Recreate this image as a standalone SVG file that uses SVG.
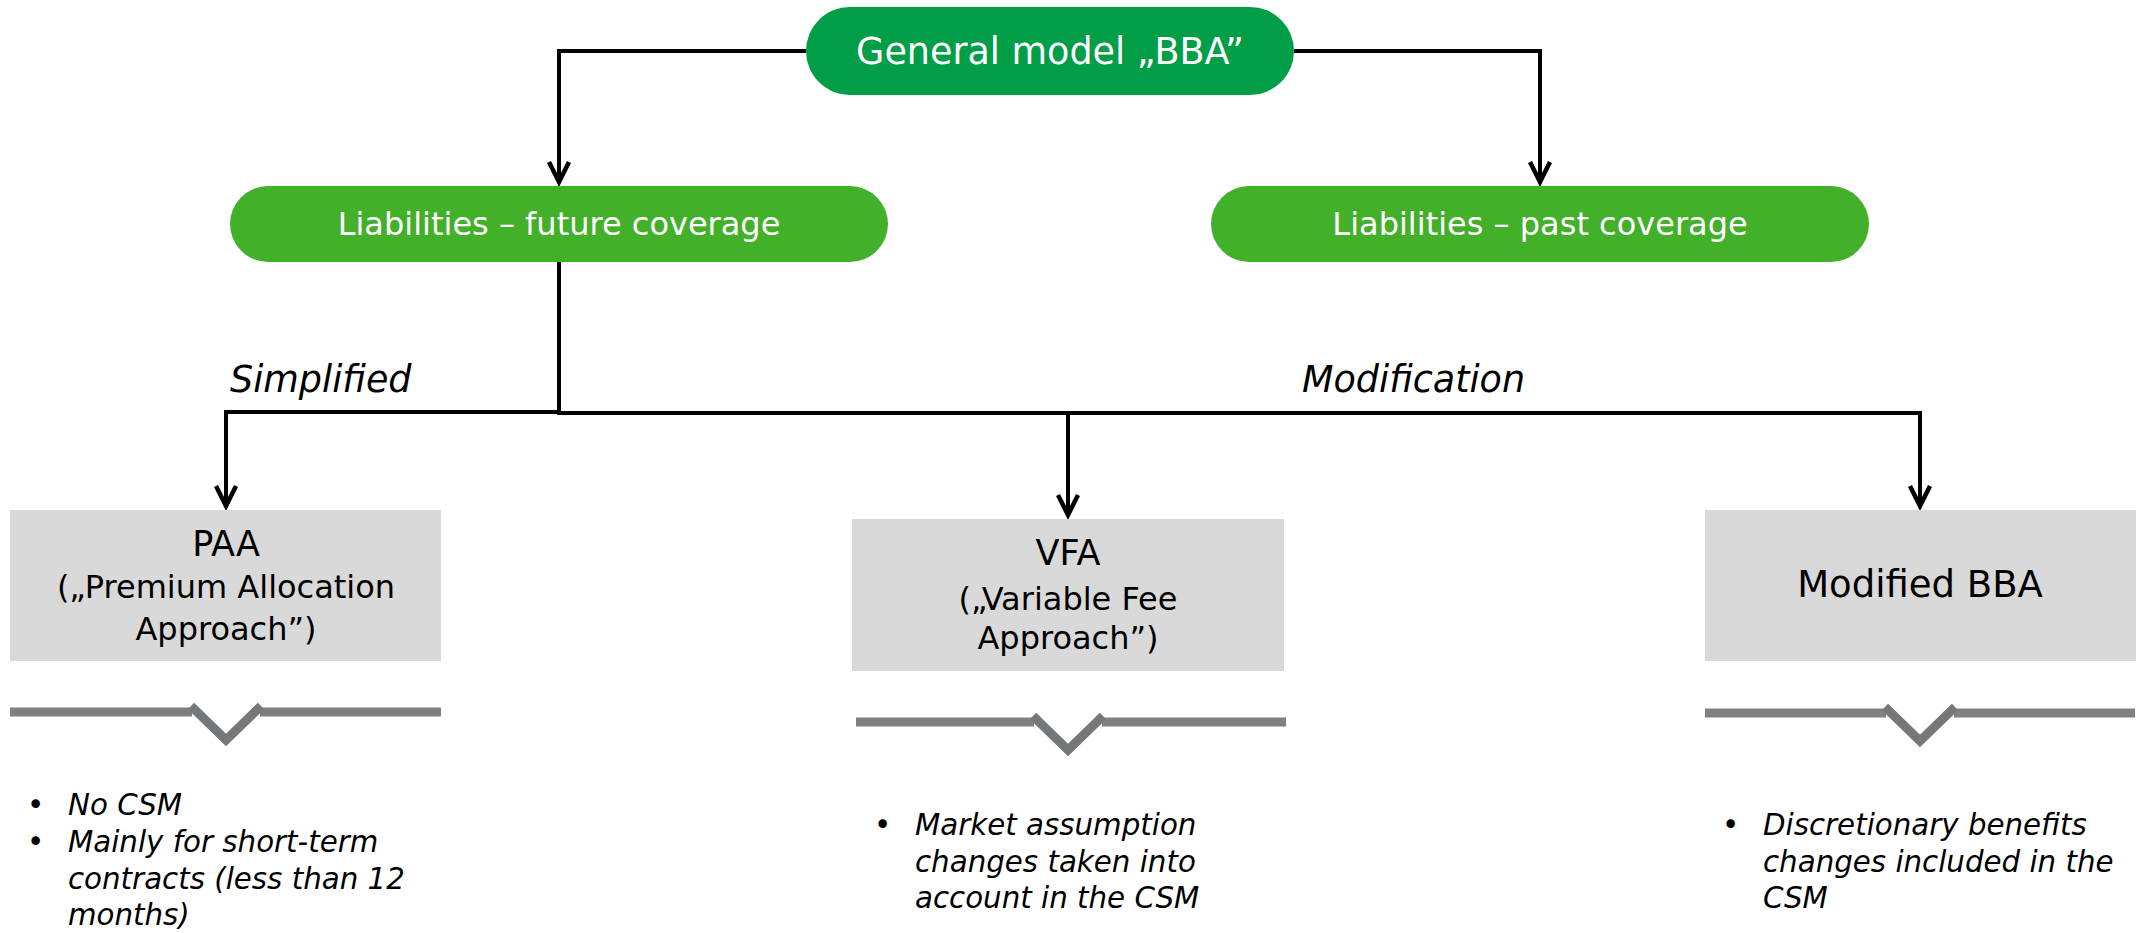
<svg xmlns="http://www.w3.org/2000/svg" width="2149" height="933" viewBox="0 0 2149 933">
<style>
.t{font-family:"DejaVu Sans","Liberation Sans",sans-serif;}
.w{fill:#ffffff;text-anchor:middle;}
.k{fill:#000000;text-anchor:middle;}
.i{font-family:"DejaVu Sans","Liberation Sans",sans-serif;font-style:italic;fill:#000000;}
.b{font-size:29.3px;}
.box{fill:#D9D9D9;}
.ln{stroke:#000;stroke-width:4;fill:none;}
.bar{stroke:#808080;stroke-width:9;fill:none;}
.chev{stroke:#75787B;stroke-width:9;fill:none;stroke-linejoin:miter;}
</style>
<defs>
<marker id="arr" viewBox="-26 -13 30 26" markerWidth="30" markerHeight="26" refX="0" refY="0" orient="auto" markerUnits="userSpaceOnUse">
<path d="M-20,-10 L0,0 L-20,10" fill="none" stroke="#000" stroke-width="4.5" stroke-linejoin="miter"/>
</marker>
</defs>
<g id="connectors">
<path class="ln" d="M806,51 H559 V182" marker-end="url(#arr)"/>
<path class="ln" d="M1294,51 H1540 V182" marker-end="url(#arr)"/>
<path class="ln" d="M559,262 V412"/>
<path class="ln" d="M561,412 H226 V506" marker-end="url(#arr)"/>
<path class="ln" d="M557,413 H1920 V506" marker-end="url(#arr)"/>
<path class="ln" d="M1068,413 V515" marker-end="url(#arr)"/>
<text class="i" x="230" y="392" font-size="36.5">Simplified</text>
<text class="i" x="1302" y="392" font-size="36.5">Modification</text>
</g>
<g id="node-bba">
<rect x="806" y="7" width="488" height="88" rx="44" fill="#009E47"/>
<text class="t w" x="1050" y="64" font-size="36.5">General model „BBA”</text>
</g>
<g id="node-future">
<rect x="230" y="186" width="658" height="76" rx="38" fill="#43B02A"/>
<text class="t w" x="559" y="235" font-size="32">Liabilities – future coverage</text>
</g>
<g id="node-past">
<rect x="1211" y="186" width="658" height="76" rx="38" fill="#43B02A"/>
<text class="t w" x="1540" y="235" font-size="32">Liabilities – past coverage</text>
</g>
<g id="node-paa">
<rect class="box" x="10" y="510" width="431" height="151"/>
<text class="t k" x="226" y="556" font-size="35">PAA</text>
<text class="t k" x="226" y="598" font-size="32">(„Premium Allocation</text>
<text class="t k" x="226" y="640" font-size="32">Approach”)</text>
<path class="bar" d="M10,712 H192 M260,712 H441"/>
<polyline class="chev" points="191,706 226,740 261,706"/>
<text class="i b"><tspan x="27" y="815">•</tspan><tspan x="68" y="815">No CSM</tspan></text>
<text class="i b"><tspan x="27" y="852">•</tspan><tspan x="68" y="852">Mainly for short-term</tspan></text>
<text class="i b" x="68" y="889">contracts (less than 12</text>
<text class="i b" x="68" y="925">months)</text>
</g>
<g id="node-vfa">
<rect class="box" x="852" y="519" width="432" height="152"/>
<text class="t k" x="1068" y="565" font-size="35">VFA</text>
<text class="t k" x="1068" y="610" font-size="32">(„Variable Fee</text>
<text class="t k" x="1068" y="649" font-size="32">Approach”)</text>
<path class="bar" d="M856,722 H1034 M1102,722 H1286"/>
<polyline class="chev" points="1033,716 1068,750 1103,716"/>
<text class="i b"><tspan x="874" y="835">•</tspan><tspan x="915" y="835">Market assumption</tspan></text>
<text class="i b" x="915" y="872">changes taken into</text>
<text class="i b" x="915" y="908">account in the CSM</text>
</g>
<g id="node-modified">
<rect class="box" x="1705" y="510" width="431" height="151"/>
<text class="t k" x="1920" y="597" font-size="37">Modified BBA</text>
<path class="bar" d="M1705,713 H1886 M1954,713 H2135"/>
<polyline class="chev" points="1885,707 1920,741 1955,707"/>
<text class="i b"><tspan x="1722" y="835">•</tspan><tspan x="1763" y="835">Discretionary benefits</tspan></text>
<text class="i b" x="1763" y="872">changes included in the</text>
<text class="i b" x="1763" y="908">CSM</text>
</g>
</svg>
